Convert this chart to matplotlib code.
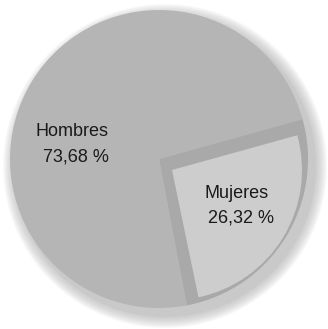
import matplotlib.pyplot as plt
from matplotlib.patches import Circle, Wedge

# datos del grafico
categorias = ['Hombres', 'Mujeres']
porcentajes = [73.68, 26.32]
etiquetas = ['73,68 %', '26,32 %']

W, H = 328, 329
fig = plt.figure(figsize=(3.28, 3.29), dpi=100)
ax = fig.add_axes([0, 0, 1, 1])

cx, cy, r = 159, H - 159, 149

# sombra difusa
for k in range(12):
    ax.add_patch(Circle((cx + 6, cy - 7), r + 13 - k, color='#b0b0b0',
                        alpha=0.07, lw=0, zorder=0))
ax.add_patch(Circle((cx + 6, cy - 7), r + 2, color='#c9c9c9', lw=0, zorder=0.5))

wedges, _ = ax.pie(porcentajes, startangle=15.5, counterclock=True,
                   colors=['#b5b5b5', '#a9a9a9'], center=(cx, cy), radius=r,
                   wedgeprops=dict(linewidth=0, zorder=1), frame=True)

# la porcion de mujeres, hundida
w = wedges[1]
ax.add_patch(Wedge((cx + 13, cy - 11), r - 19, w.theta1 + 1, w.theta2,
                   color='#cdcdcd', lw=0, zorder=3))

ax.set_xlim(0, W)
ax.set_ylim(0, H)
ax.set_aspect('equal')
ax.axis('off')

fuente = dict(ha='center', va='center', fontsize=13, family='Liberation Sans',
              color='#1a1a1a', zorder=5)
ax.text(72, H - 131, categorias[0], **fuente)
ax.text(76, H - 157, etiquetas[0], **fuente)
ax.text(237, H - 194, categorias[1], **fuente)
ax.text(241, H - 218, etiquetas[1], **fuente)

fig.savefig('out.png', dpi=100)
